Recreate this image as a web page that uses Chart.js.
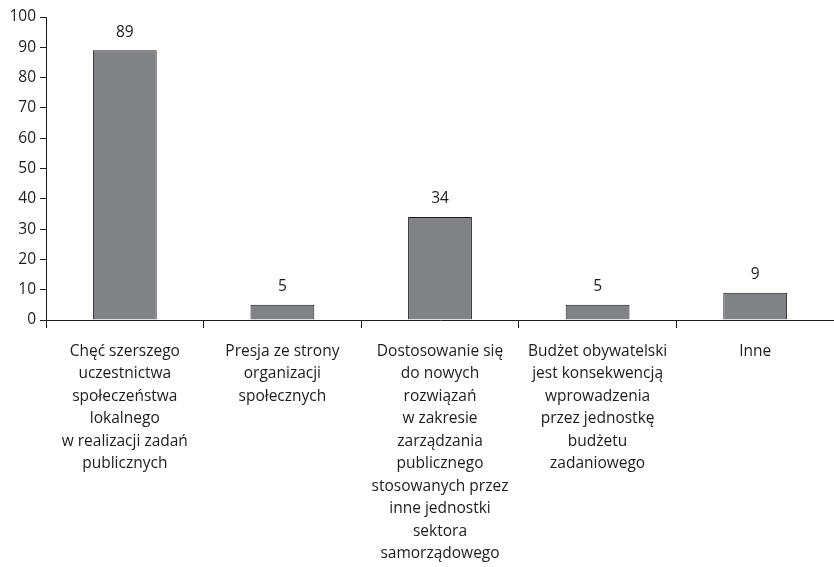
<!DOCTYPE html>
<html>
<head>
<meta charset="utf-8">
<script src="https://cdn.jsdelivr.net/npm/chart.js@4/dist/chart.umd.min.js"></script>
<style>
  html, body { margin: 0; padding: 0; background: #ffffff; }
  #wrap { width: 834px; height: 567px; position: relative; }
</style>
</head>
<body>
<div id="wrap"><canvas id="c"></canvas></div>
<script>
// Motives for introducing the participatory (citizens') budget
const categories = [
  ["Chęć szerszego", "uczestnictwa", "społeczeństwa", "lokalnego", "w realizacji zadań", "publicznych"],
  ["Presja ze strony", "organizacji", "społecznych"],
  ["Dostosowanie się", "do nowych", "rozwiązań", "w zakresie", "zarządzania", "publicznego", "stosowanych przez", "inne jednostki", "sektora", "samorządowego"],
  ["Budżet obywatelski", "jest konsekwencją", "wprowadzenia", "przez jednostkę", "budżetu", "zadaniowego"],
  ["Inne"]
];
const values = [89, 5, 34, 5, 9];
const yTicks = [0, 10, 20, 30, 40, 50, 60, 70, 80, 90, 100];

const ink = '#1f1b1c';
const family = "'Open Sans', 'Noto Sans', sans-serif";
const labelFont = { family: family, size: 15.5, lineHeight: 22.5 / 15.5 };
const tickFont = { family: family, size: 15.5 };

// Writes each bar's value above it
const valueLabels = {
  id: 'valueLabels',
  afterDatasetsDraw(chart) {
    const ctx = chart.ctx;
    const meta = chart.getDatasetMeta(0);
    ctx.save();
    ctx.fillStyle = ink;
    ctx.font = tickFont.size + 'px ' + family;
    ctx.textAlign = 'center';
    ctx.textBaseline = 'middle';
    meta.data.forEach((bar, i) => {
      ctx.fillText(String(values[i]), bar.x, bar.y - 18);
    });
    ctx.restore();
  }
};

new Chart(document.getElementById('c'), {
  type: 'bar',
  data: {
    labels: categories,
    datasets: [{
      data: values,
      backgroundColor: '#808285',
      borderColor: ink,
      borderWidth: 1,
      categoryPercentage: 1,
      barPercentage: 0.405
    }]
  },
  options: {
    responsive: true,
    maintainAspectRatio: false,
    animation: false,
    layout: { padding: { top: 17, right: 0, left: 0, bottom: 0 } },
    plugins: {
      legend: { display: false },
      tooltip: { enabled: false }
    },
    scales: {
      x: {
        offset: true,
        border: { display: true, color: ink, width: 1 },
        grid: {
          offset: true,
          drawOnChartArea: false,
          drawTicks: true,
          tickLength: 8,
          color: ink,
          lineWidth: 1
        },
        ticks: {
          color: ink,
          font: labelFont,
          padding: 12,
          maxRotation: 0,
          autoSkip: false
        },
        afterFit(s) { s.height = 247; }
      },
      y: {
        min: 0,
        max: 100,
        border: { display: true, color: ink, width: 1 },
        grid: {
          drawOnChartArea: false,
          drawTicks: true,
          tickLength: 6,
          color: ink,
          lineWidth: 1
        },
        afterBuildTicks(s) { s.ticks = yTicks.map(v => ({ value: v })); },
        ticks: {
          color: ink,
          font: tickFont,
          padding: 4
        },
        afterFit(s) { s.width = 46; }
      }
    }
  },
  plugins: [valueLabels]
});
</script>
</body>
</html>
